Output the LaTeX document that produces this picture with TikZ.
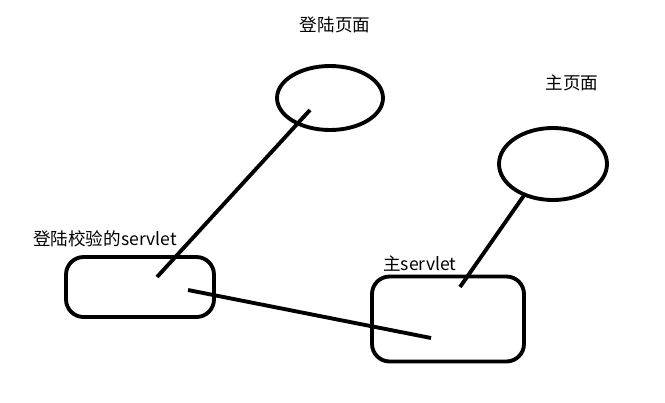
\documentclass[tikz,border=0pt]{standalone}
\usepackage{fontspec}
\setmainfont{Noto Sans CJK SC}
\usetikzlibrary{positioning, shapes.geometric}

\begin{document}
\begin{tikzpicture}[x=0.02cm, y=-0.02cm, line width=2.2pt,
 every node/.style={font=\fontsize{10}{12}\selectfont},
 page/.style={draw, ellipse, inner sep=0pt},
 servletbox/.style={draw, rounded corners=10pt, inner sep=0pt},
 label/.style={draw=none}]
 \useasboundingbox (0,0) rectangle (665,402);
 % pages
 \node[page, minimum width=2.12cm, minimum height=1.28cm] (login) at (330,98) {};
 \node[page, minimum width=2.16cm, minimum height=1.44cm] (home) at (553,164) {};
 % servlets
 \node[servletbox, minimum width=2.96cm, minimum height=1.2cm] (check) at (140,287) {};
 \node[servletbox, minimum width=3.04cm, minimum height=1.7cm] (main) at (448,319) {};
 % labels
 \node[label] (loginlabel) at (335,25) {登陆页面};
 \node[label] (homelabel) at (572,83) {主页面};
 \node[label] (checklabel) at (105,239) {登陆校验的servlet};
 \node[label] (mainlabel) at (420,264) {主servlet};
 % line ends
 \coordinate (a1) at (310,110);
 \coordinate (a2) at (157,277);
 \coordinate (b1) at (525,194);
 \coordinate (b2) at (460,287);
 \coordinate (c1) at (188,290);
 \coordinate (c2) at (431,338);
 \draw (a1) -- (a2);
 \draw (b1) -- (b2);
 \draw (c1) -- (c2);
\end{tikzpicture}
\end{document}
